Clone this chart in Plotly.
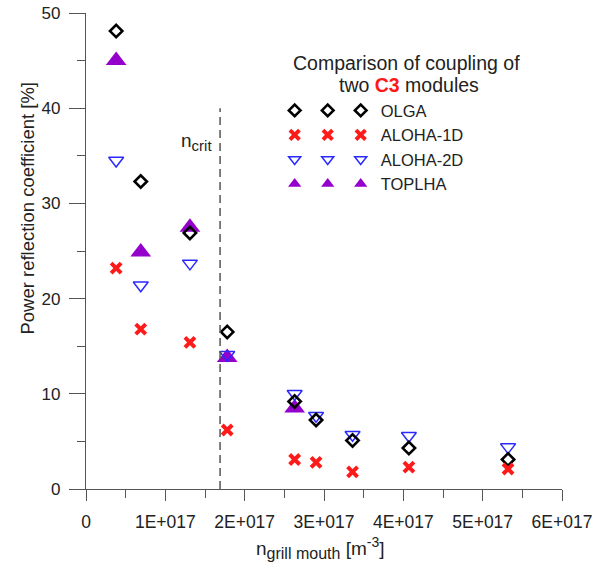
import numpy as np
import plotly.graph_objects as go

# Electron density at the grill mouth (units of 1E+017 m^-3)
n_grill = np.array([0.38, 0.69, 1.31, 1.78, 2.63, 2.90, 3.36, 4.07, 5.32]) * 1e17

# Power reflection coefficient [%] for each code
olga = [48.1, 32.3, 26.9, 16.5, 9.2, 7.25, 5.1, 4.3, 3.1]
aloha_1d = [23.2, 16.8, 15.4, 6.2, 3.1, 2.8, 1.8, 2.3, 2.1]
aloha_2d = [34.5, 21.4, 23.7, 14.1, 10.0, 7.7, 5.7, 5.6, 4.4]
toplha = [45.0, 24.9, 27.5, 13.8, 8.5]

# Critical density marker
n_crit = 1.69e17
n_crit_top = 40

x_tickvals = [0, 1e17, 2e17, 3e17, 4e17, 5e17, 6e17]
x_ticktext = ["0", "1E+017", "2E+017", "3E+017", "4E+017", "5E+017", "6E+017"]
x_minor = [0.5e17, 1.5e17, 2.5e17, 3.5e17, 4.5e17, 5.5e17]
y_tickvals = [0, 10, 20, 30, 40, 50]
y_minor = [5, 15, 25, 35, 45]

FONT = "Arial, 'Liberation Sans', sans-serif"
AXIS_COLOR = "#555555"
TEXT_COLOR = "#222222"

styles = {
    "OLGA": dict(symbol="diamond-open", color="black", line=dict(width=2.6, color="black")),
    "ALOHA-1D": dict(symbol="x-thin-open", color="#ff1a1a", line=dict(width=4, color="#ff1a1a")),
    "ALOHA-2D": dict(symbol="triangle-down-open", color="#2a2aff", line=dict(width=1.5, color="#2a2aff")),
    "TOPLHA": dict(symbol="triangle-up", color="#9400cc", line=dict(width=0)),
}
data_sizes = {"OLGA": 9.5, "ALOHA-1D": 10, "ALOHA-2D": 13, "TOPLHA": 18}
legend_sizes = {"OLGA": 9, "ALOHA-1D": 9.5, "ALOHA-2D": 10.5, "TOPLHA": 11.5}
series = {"OLGA": olga, "ALOHA-1D": aloha_1d, "ALOHA-2D": aloha_2d, "TOPLHA": toplha}

fig = go.Figure()

# draw order: purple beneath, then blue, black, red on top
for name in ["TOPLHA", "ALOHA-2D", "OLGA", "ALOHA-1D"]:
    vals = series[name]
    st = styles[name]
    fig.add_trace(go.Scatter(
        x=n_grill[:len(vals)], y=vals, mode="markers", name=name, showlegend=False,
        marker=dict(symbol=st["symbol"], size=data_sizes[name], color=st["color"], line=st["line"]),
        cliponaxis=False,
    ))

# legend keys: three columns of symbols, the last one labelled
for legend_id in ["legend", "legend2", "legend3"]:
    for name in ["OLGA", "ALOHA-1D", "ALOHA-2D", "TOPLHA"]:
        st = styles[name]
        fig.add_trace(go.Scatter(
            x=[None], y=[None], mode="markers",
            name=name if legend_id == "legend3" else "",
            legend=legend_id, showlegend=True,
            marker=dict(symbol=st["symbol"], size=legend_sizes[name], color=st["color"], line=st["line"]),
        ))

# critical density line
fig.add_shape(type="line", xref="x", yref="y", x0=n_crit, x1=n_crit, y0=0, y1=n_crit_top,
              line=dict(color=AXIS_COLOR, width=1.5, dash="8px,5px"))

legend_common = dict(
    bgcolor="rgba(0,0,0,0)", borderwidth=0, orientation="v",
    font=dict(family=FONT, size=16.5, color=TEXT_COLOR),
    xanchor="left", yanchor="top", itemclick=False, tracegroupgap=0,
)

fig.update_layout(
    width=606, height=566,
    margin=dict(l=86, r=44, t=13, b=77, autoexpand=False),
    paper_bgcolor="white", plot_bgcolor="white",
    font=dict(family=FONT, color=TEXT_COLOR, size=17),
    legend=dict(x=0.3964, y=0.8315, **legend_common),
    legend2=dict(x=0.4658, y=0.8315, **legend_common),
    legend3=dict(x=0.5351, y=0.8315, **legend_common),
    xaxis=dict(
        range=[0, 6e17], showgrid=False, zeroline=False, automargin=False,
        showline=True, linecolor=AXIS_COLOR, linewidth=1.3,
        ticks="outside", ticklen=11, tickwidth=1.3, tickcolor=AXIS_COLOR,
        tickmode="array", tickvals=x_tickvals, ticktext=x_ticktext,
        tickfont=dict(family=FONT, size=17.5, color=TEXT_COLOR),
        ticklabelstandoff=6,
        minor=dict(tickmode="array", tickvals=x_minor, ticks="outside", ticklen=8,
                   tickwidth=1.3, tickcolor=AXIS_COLOR, showgrid=False),
    ),
    yaxis=dict(
        range=[0, 50], showgrid=False, zeroline=False, automargin=False,
        showline=True, linecolor=AXIS_COLOR, linewidth=1.3,
        ticks="outside", ticklen=16, tickwidth=1.3, tickcolor=AXIS_COLOR,
        tickmode="array", tickvals=y_tickvals,
        tickfont=dict(family=FONT, size=17, color=TEXT_COLOR),
        ticklabelstandoff=5,
        minor=dict(tickmode="array", tickvals=y_minor, ticks="outside", ticklen=8,
                   tickwidth=1.3, tickcolor=AXIS_COLOR, showgrid=False),
    ),
    annotations=[
        dict(text="Power reflection coefficient [%]", xref="paper", yref="paper",
             x=-0.122, y=0.591, textangle=-90, showarrow=False,
             xanchor="center", yanchor="middle", font=dict(size=18.5, color=TEXT_COLOR)),
        dict(text="n<sub><span style='font-size:16px'>grill mouth</span></sub> [m<sup><span style='font-size:14px'>-3</span></sup>]",
             xref="paper", yref="paper", x=0.4916, y=-0.124, showarrow=False,
             xanchor="center", yanchor="middle", font=dict(size=19, color=TEXT_COLOR)),
        dict(text="n<sub><span style='font-size:15px'>crit</span></sub>", xref="x", yref="y",
             x=n_crit, y=36.4, xanchor="right", yanchor="middle", xshift=-6, showarrow=False,
             font=dict(size=19, color=TEXT_COLOR)),
        dict(text="Comparison of coupling of", xref="paper", yref="paper",
             x=0.674, y=0.895, xanchor="center", yanchor="middle", showarrow=False,
             font=dict(size=19.5, color=TEXT_COLOR)),
        dict(text="two <b><span style='color:#ff1a1a'>C3</span></b> modules", xref="paper", yref="paper",
             x=0.679, y=0.849, xanchor="center", yanchor="middle", showarrow=False,
             font=dict(size=19.5, color=TEXT_COLOR)),
    ],
)

fig.write_html("out.html")
